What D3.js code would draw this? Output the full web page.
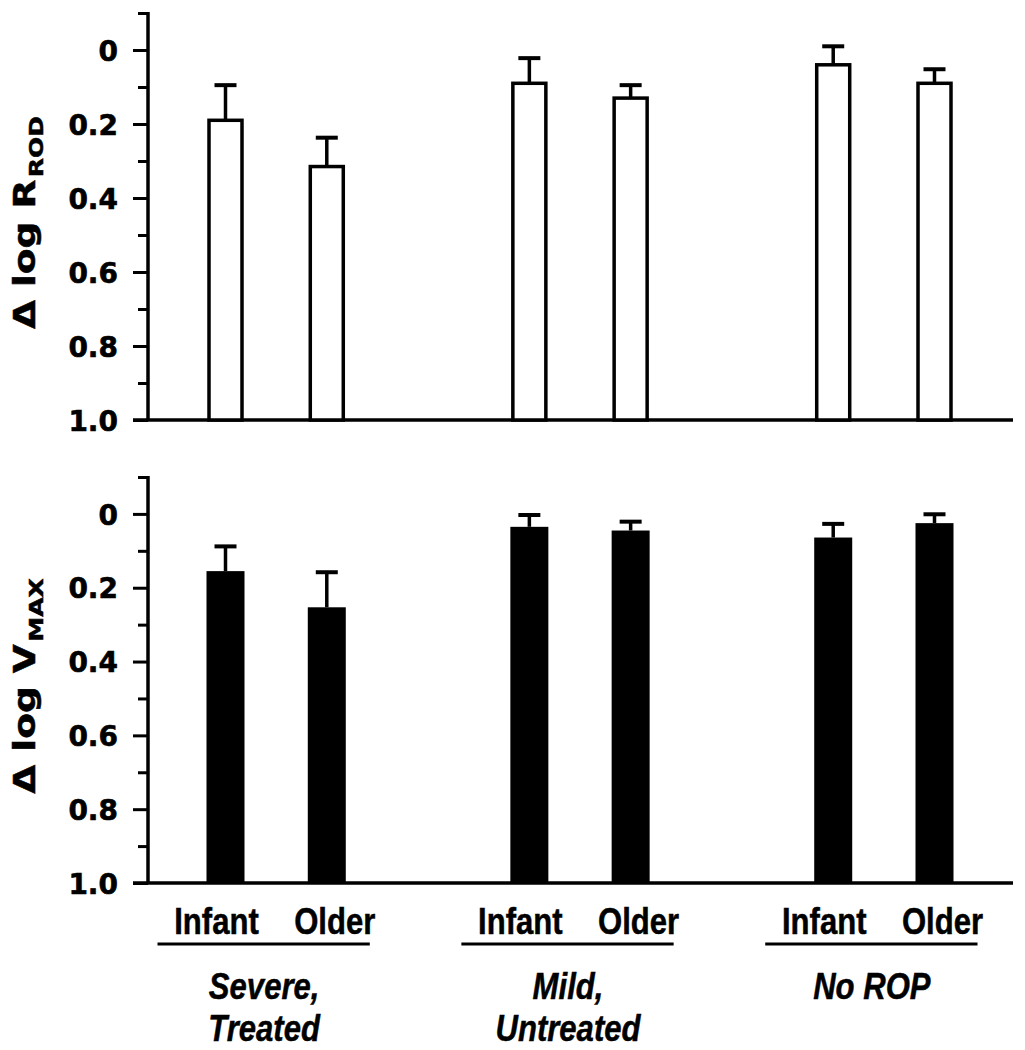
<!DOCTYPE html>
<html>
<head>
<meta charset="utf-8">
<script src="https://cdn.jsdelivr.net/npm/d3@7"></script>
<style>
  html, body { margin: 0; padding: 0; background: #fff; }
  svg { display: block; }
</style>
</head>
<body>
<svg id="chart" width="1025" height="1050"></svg>
<script>
// ---- data ----
const groups = ["Severe, Treated", "Mild, Untreated", "No ROP"];
const groupLines = [["Severe,", "Treated"], ["Mild,", "Untreated"], ["No ROP"]];
const ages = ["Infant", "Older"];
// mean and SEM tip for Δ log R_ROD (top panel)
const rodMean = [0.19, 0.315, 0.09, 0.13, 0.04, 0.09];
const rodErrTip = [0.095, 0.237, 0.022, 0.095, -0.01, 0.052];
// Δ log V_MAX (bottom panel)
const vmaxMean = [0.155, 0.253, 0.035, 0.045, 0.064, 0.025];
const vmaxErrTip = [0.088, 0.158, 0.003, 0.021, 0.027, 0.001];
const yTicks = [0, 0.2, 0.4, 0.6, 0.8, 1.0];
const yMinorTicks = [-0.1, 0.1, 0.3, 0.5, 0.7, 0.9];

const svg = d3.select("#chart");
const axisX = 148;
const baseLeft = 133, baseRight = 1013;

// slot positions: two bars per group, one empty slot between groups
const slots = [];
groups.forEach((g, gi) => ages.forEach((a, ai) => slots.push({g: gi, a: ai, slot: gi * 3 + ai})));
const x = d3.scaleLinear().domain([0, 7]).range([225.5, 934.5]);

const wide = "'DejaVu Sans', Verdana, sans-serif";
const font = "'Liberation Sans', Arial, Helvetica, sans-serif";

function panel(top, bottom, means, tips, filled, titleMain, titleSub) {
  const y = d3.scaleLinear().domain([-0.1, 1.0]).range([top, bottom]);
  const g = svg.append("g");

  // y axis
  const ax = g.append("g").attr("transform", `translate(${axisX},0)`)
    .call(d3.axisLeft(y).tickValues(yTicks).tickSize(15)
      .tickFormat(d => d === 0 ? "0" : d3.format(".1f")(d)));
  ax.select(".domain").remove();
  ax.selectAll(".tick line").attr("stroke", "#000").attr("stroke-width", 3);
  ax.selectAll(".tick text").attr("x", -30).attr("dy", "0.36em").attr("font-family", wide)
    .attr("font-weight", "bold").attr("font-size", 28).attr("fill", "#000")
    .attr("stroke", "#000").attr("stroke-width", 0.6);
  const axm = g.append("g").attr("transform", `translate(${axisX},0)`)
    .call(d3.axisLeft(y).tickValues(yMinorTicks).tickSize(10).tickFormat(""));
  axm.select(".domain").remove();
  axm.selectAll(".tick line").attr("stroke", "#000").attr("stroke-width", 3);

  // axis line
  g.append("line").attr("x1", axisX).attr("x2", axisX)
    .attr("y1", y(-0.1) - 1).attr("y2", y(1.0))
    .attr("stroke", "#000").attr("stroke-width", 3.5);
  // baseline
  g.append("line").attr("x1", baseLeft).attr("x2", baseRight)
    .attr("y1", y(1.0)).attr("y2", y(1.0))
    .attr("stroke", "#000").attr("stroke-width", 3.5);

  // error bars
  slots.forEach((s, i) => {
    const cx = x(s.slot);
    g.append("line").attr("x1", cx).attr("x2", cx)
      .attr("y1", y(means[i])).attr("y2", y(tips[i]))
      .attr("stroke", "#000").attr("stroke-width", 3.5);
    g.append("line").attr("x1", cx - 11).attr("x2", cx + 11)
      .attr("y1", y(tips[i])).attr("y2", y(tips[i]))
      .attr("stroke", "#000").attr("stroke-width", 4);
  });

  // bars
  if (filled) {
    g.selectAll("rect.bar").data(slots).enter().append("rect")
      .attr("x", d => x(d.slot) - 19).attr("width", 38)
      .attr("y", (d, i) => y(means[i]))
      .attr("height", (d, i) => y(1.0) - y(means[i]))
      .attr("fill", "#000");
  } else {
    g.selectAll("rect.bar").data(slots).enter().append("rect")
      .attr("x", d => x(d.slot) - 16.5).attr("width", 33)
      .attr("y", (d, i) => y(means[i]))
      .attr("height", (d, i) => y(1.0) - y(means[i]))
      .attr("fill", "#fff").attr("stroke", "#000").attr("stroke-width", 3.5);
  }

  // y title
  const cy = (top + bottom) / 2 + 6;
  const t = g.append("text")
    .attr("transform", `translate(35,${cy}) rotate(-90) scale(1.25,1)`)
    .attr("text-anchor", "middle")
    .attr("font-family", wide).attr("font-weight", "bold")
    .attr("font-size", 30).attr("fill", "#000")
    .attr("stroke", "#000").attr("stroke-width", 0.5);
  t.append("tspan").attr("xml:space", "preserve").text(titleMain);
  t.append("tspan").attr("font-size", 20).attr("dy", 8).attr("dx", 2).text(titleSub);
}

panel(13, 420, rodMean, rodErrTip, false, "\u0394 log R", "ROD");
panel(477, 883, vmaxMean, vmaxErrTip, true, "\u0394 log V", "MAX");

// x labels (condensed look via horizontal scaling)
function label(parent, cx, cy, str, italic) {
  parent.append("g").attr("transform", `translate(${cx},${cy}) scale(0.84,1)`)
    .append("text").attr("text-anchor", "middle").attr("font-family", font)
    .attr("font-weight", "bold").attr("font-style", italic ? "italic" : "normal")
    .attr("font-size", 37).attr("fill", "#000")
    .attr("stroke", "#000").attr("stroke-width", 0.5).text(str);
}
const lab = svg.append("g");
groups.forEach((gname, gi) => {
  const c0 = x(gi * 3), c1 = x(gi * 3 + 1);
  ages.forEach((a, ai) => {
    label(lab, ai === 0 ? c0 - 9 : c1 + 8, 934, a, false);
  });
  lab.append("line").attr("x1", c0 - 68).attr("x2", c1 + 43)
    .attr("y1", 944).attr("y2", 944).attr("stroke", "#000").attr("stroke-width", 3);
  groupLines[gi].forEach((ln, li) => {
    label(lab, (c0 + c1) / 2 - 12, 999 + li * 42, ln, true);
  });
});
</script>
</body>
</html>
